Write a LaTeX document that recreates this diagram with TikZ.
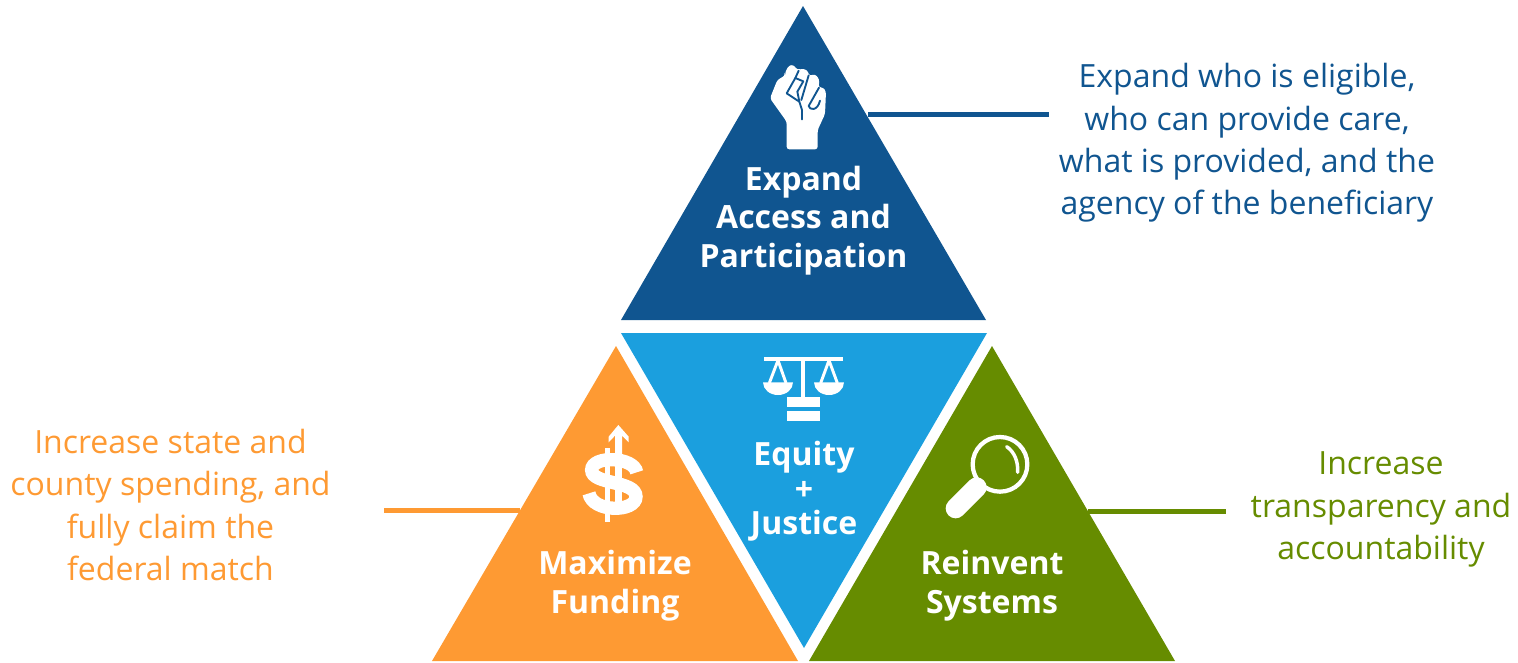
\documentclass[tikz,border=0pt]{standalone}
\usepackage{fontspec}
\setmainfont{Open Sans}
\definecolor{cblue}{HTML}{105590}
\definecolor{clight}{HTML}{1B9FDE}
\definecolor{corange}{HTML}{FE9A33}
\definecolor{cgreen}{HTML}{668C00}
\newcommand{\notetext}{\fontsize{24pt}{31.8pt}\selectfont}
\newcommand{\headtext}{\fontsize{24pt}{29pt}\selectfont\bfseries}
\newcommand{\midtext}{\fontsize{24pt}{25.9pt}\selectfont\bfseries}
\tikzset{
  note/.style={align=center,inner sep=0pt,font=\notetext},
  head/.style={align=center,inner sep=0pt,text=white,font=\headtext},
  tri/.style={fill=#1,draw=none},
  lead/.style={draw=#1,line width=3.75pt},
  ink/.style={fill=white,draw=none},
  crease/.style={cblue,line width=1.4pt,line cap=round,line join=round},
}
\begin{document}
\begin{tikzpicture}[x=0.75pt,y=-0.75pt]
\useasboundingbox (0,0) rectangle (1518,662);
% triangles
\coordinate (ta) at (803,6); \coordinate (tb) at (621,320); \coordinate (tc) at (986,320);
\coordinate (ma) at (621,333); \coordinate (mb) at (987,333); \coordinate (mc) at (804,648);
\coordinate (la) at (616,346); \coordinate (lb) at (432,661); \coordinate (lc) at (798,661);
\coordinate (ra) at (992,346); \coordinate (rb) at (809,661); \coordinate (rc) at (1175,661);
\fill[tri=cblue] (ta)--(tb)--(tc)--cycle;
\fill[tri=clight] (ma)--(mb)--(mc)--cycle;
\fill[tri=corange] (la)--(lb)--(lc)--cycle;
\fill[tri=cgreen] (ra)--(rb)--(rc)--cycle;
% leaders
\coordinate (b1) at (868,114); \coordinate (b2) at (1049,114);
\coordinate (o1) at (384,510); \coordinate (o2) at (520,510);
\coordinate (g1) at (1088,511); \coordinate (g2) at (1226,511);
\draw[lead=cblue] (b1)--(b2);
\draw[lead=corange] (o1)--(o2);
\draw[lead=cgreen] (g1)--(g2);
% fist
\begin{scope}[shift={(740,50)},x=0.25pt,y=-0.25pt]
\fill[ink,rounded corners=2pt] (140,298)--(233,298)--(233,240)--(255,192)--(258,125)--(250,112)--(236,113)--(238,88)--(225,72)--(208,78)--(202,60)--(185,56)--(172,60)--(160,44)--(146,47)--(134,70)--(136,76)--(112,90)--(90,145)--(140,215)--cycle;
\draw[crease] (176,62)--(166,84)--(190,94)--(172,125)--(178,155)--(186,180)--(186,208);
\draw[crease] (166,84)--(140,130)--(178,155);
\draw[crease] (206,76)--(184,150);
\draw[crease] (237,113)--(206,168) .. controls (208,180) and (232,185) .. (240,152);
\end{scope}
% scales
\begin{scope}[shift={(740,345)},x=0.25pt,y=-0.25pt]
\fill[ink] (72,36) rectangle (309,48);
\fill[ink] (183,48) rectangle (195,155);
\fill[ink] (142,157) rectangle (239,186);
\fill[ink] (142,198) rectangle (239,228);
\draw[white,line width=2.2pt] (114,46)--(88,114)(114,46)--(138,114);
\draw[white,line width=2.2pt] (267,46)--(242,114)(267,46)--(292,114);
\fill[ink] (69,112) arc[start angle=180,end angle=0,x radius=45,y radius=38]--cycle;
\fill[ink] (222,112) arc[start angle=180,end angle=0,x radius=45,y radius=38]--cycle;
\end{scope}
% dollar
\begin{scope}[shift={(560,415)},x=0.25pt,y=-0.25pt]
\fill[ink] (175,30)--(206,65)--(206,82)--(186,62)--(186,120)--(165,120)--(165,62)--(146,82)--(146,65)--cycle;
\draw[white,line width=10pt] (230,172) .. controls (223,125) and (95,120) .. (95,165) .. controls (95,210) and (228,195) .. (228,245) .. controls (228,293) and (97,293) .. (87,235);
\fill[ink] (134,100) rectangle (150,320);
\fill[ink] (165,120) rectangle (185,265);
\end{scope}
% magnifier
\begin{scope}[shift={(935,425)},x=0.25pt,y=-0.25pt]
\draw[white,line width=3.2pt] (195,118) circle[radius=82];
\draw[white,line width=2.6pt,line cap=round] (215,65) .. controls (238,80) and (250,110) .. (248,142);
\draw[white,line width=15pt,line cap=round] (125,187)--(62,250);
\end{scope}
% labels
\node[head] (h1) at (803.5,220.5) {Expand\\Access and\\Participation};
\node[head] (h2) at (615,585.5) {Maximize\\Funding};
\node[head] (h3) at (992,585.5) {Reinvent\\Systems};
\node[align=center,inner sep=0pt,text=white,font=\midtext] (h4) at (804,491.5) {Equity\\+\\Justice};
\node[note,text=cblue] (n1) at (1247,143) {Expand who is eligible,\\who can provide care,\\what is provided, and the\\agency of the beneficiary};
\node[note,text=corange] (n2) at (170.5,505) {Increase state and\\county spending, and\\fully claim the\\federal match};
\node[note,text=cgreen] (n3) at (1381,509.5) {Increase\\transparency and\\accountability};
\end{tikzpicture}
\end{document}
